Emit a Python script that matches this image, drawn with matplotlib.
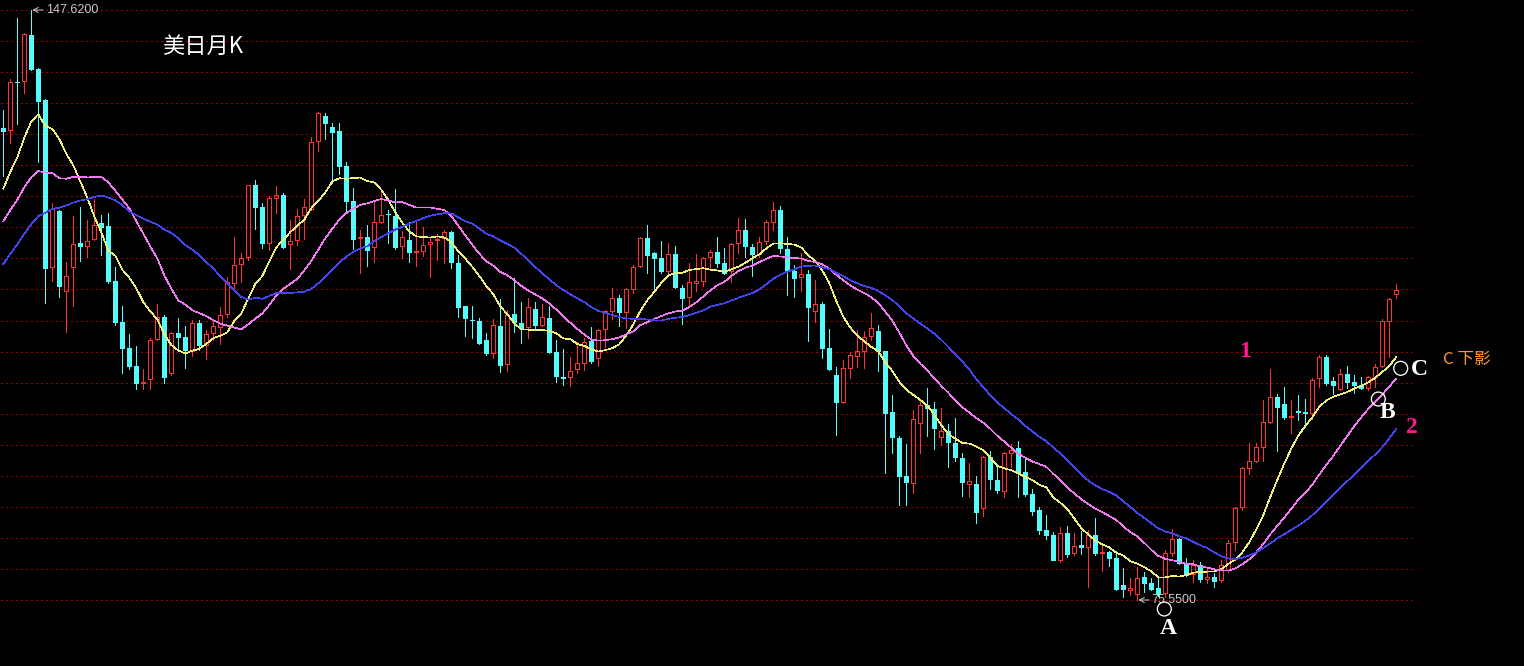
import numpy as np
import pandas as pd
import matplotlib
matplotlib.use("Agg")
import matplotlib.pyplot as plt
from matplotlib.patches import Rectangle
from matplotlib.collections import PatchCollection, LineCollection

# ---------------- data: USD/JPY monthly candles, 1998-04 .. 2014-11 ----------------
months = [str(p) for p in pd.period_range("1998-04", "2014-11", freq="M")]

opens = [
    133.21, 132.96, 138.82, 138.95, 144.56, 140.41, 136.60, 116.20, 123.07, 113.30,
    116.20, 119.16, 118.79, 119.65, 121.60, 121.24, 114.50, 109.50, 106.33, 104.13,
    102.06, 102.55, 107.43, 110.12, 103.28, 108.16, 107.67, 105.97, 109.39, 106.70,
    108.16, 108.90, 110.49, 114.27, 116.59, 117.45, 126.24, 123.55, 119.16, 124.65,
    125.02, 119.03, 119.52, 122.58, 123.31, 131.62, 134.67, 133.33, 132.84, 128.56,
    124.29, 119.77, 119.89, 118.67, 121.72, 122.75, 122.45, 118.79, 119.52, 118.06,
    118.18, 119.03, 119.52, 119.77, 120.50, 116.71, 111.46, 109.80, 109.63, 107.31,
    105.72, 109.02, 104.38, 110.49, 109.39, 108.90, 111.10, 109.14, 110.00, 105.84,
    102.79, 102.79, 103.77, 104.50, 107.19, 105.11, 108.65, 110.85, 112.44, 110.73,
    113.54, 116.35, 119.77, 117.93, 117.32, 115.73, 117.81, 113.66, 112.56, 114.27,
    114.51, 117.45, 118.06, 116.71, 115.73, 119.16, 120.75, 118.67, 117.81, 119.40,
    121.72, 123.19, 118.43, 115.73, 115.00, 115.37, 110.85, 111.71, 106.33, 103.03,
    99.74, 103.89, 105.36, 105.97, 107.80, 108.41, 105.97, 98.51, 95.34, 90.70,
    89.84, 97.17, 99.37, 98.88, 95.46, 96.19, 94.73, 92.90, 89.72, 89.72,
    86.79, 93.02, 90.21, 88.86, 93.50, 94.12, 91.18, 88.50, 86.54, 84.10,
    83.49, 80.43, 83.73, 81.29, 82.27, 82.02, 83.49, 81.29, 81.41, 80.68,
    77.38, 76.77, 76.28, 78.36, 77.63, 77.01, 76.41, 81.29, 82.98, 80.07,
    78.73, 79.83, 78.12, 78.36, 77.99, 79.21, 82.63, 86.91, 91.67, 92.53,
    94.24, 97.29, 100.35, 99.49, 97.90, 98.63, 98.51, 98.39, 102.67, 105.23,
    102.30, 101.32, 103.16, 102.18, 101.81, 101.45, 102.79, 104.13, 109.63, 112.93,
]
highs = [
    135.40, 139.19, 146.64, 144.81, 147.62, 140.53, 136.70, 124.00, 123.20, 116.84,
    122.45, 123.55, 121.97, 124.53, 122.58, 122.82, 116.23, 111.46, 108.04, 106.58,
    103.77, 107.55, 111.70, 110.36, 108.28, 110.00, 109.02, 109.75, 109.75, 108.53,
    109.63, 111.34, 115.00, 119.89, 117.93, 126.30, 126.85, 124.04, 124.90, 126.12,
    125.26, 121.97, 123.31, 124.53, 132.11, 135.16, 135.04, 133.82, 133.82, 129.05,
    125.88, 120.75, 121.36, 124.17, 125.51, 123.19, 125.75, 120.62, 121.72, 121.72,
    121.11, 119.77, 120.26, 120.75, 120.62, 117.69, 111.46, 111.46, 110.00, 108.16,
    109.87, 112.32, 110.97, 114.88, 111.95, 112.44, 111.95, 111.70, 111.46, 107.31,
    106.21, 105.23, 107.06, 107.55, 108.90, 108.65, 110.97, 113.66, 112.81, 113.66,
    116.47, 119.89, 121.36, 118.06, 119.40, 119.16, 118.79, 114.03, 116.71, 117.81,
    117.45, 118.30, 119.89, 118.55, 119.16, 122.21, 122.09, 119.03, 119.89, 121.97,
    124.17, 123.68, 119.89, 116.47, 117.93, 115.86, 114.64, 111.95, 108.65, 104.01,
    104.87, 105.84, 108.53, 108.41, 110.61, 109.14, 106.00, 100.59, 95.58, 94.60,
    98.76, 99.98, 101.45, 99.74, 99.00, 97.05, 97.78, 93.50, 92.29, 90.70,
    93.10, 93.75, 92.16, 93.63, 94.60, 94.97, 92.90, 89.11, 86.91, 85.93,
    83.86, 84.47, 84.59, 83.73, 83.98, 84.10, 85.57, 82.15, 81.53, 81.53,
    79.46, 78.24, 79.58, 78.97, 78.24, 78.36, 81.66, 84.24, 83.12, 80.68,
    80.43, 80.19, 79.58, 78.85, 80.43, 82.88, 86.85, 91.80, 94.73, 94.73,
    99.98, 103.77, 100.71, 101.57, 99.98, 100.59, 100.10, 102.67, 105.48, 105.48,
    102.79, 103.77, 104.13, 103.03, 102.79, 102.91, 104.38, 109.87, 112.44, 114.15,
]
lows = [
    127.34, 131.37, 133.70, 137.48, 140.30, 129.05, 111.83, 114.50, 112.56, 108.28,
    111.46, 116.96, 117.45, 119.50, 117.70, 114.27, 109.14, 103.28, 103.77, 101.32,
    101.32, 101.32, 107.31, 102.06, 103.03, 106.09, 103.89, 105.36, 106.09, 104.99,
    107.31, 106.82, 110.12, 113.66, 114.39, 117.08, 120.87, 118.55, 118.30, 122.82,
    118.55, 115.98, 118.91, 119.65, 123.20, 130.40, 131.86, 126.49, 127.59, 122.82,
    118.43, 115.49, 116.35, 116.84, 121.60, 119.16, 118.43, 117.32, 116.84, 116.35,
    117.57, 115.00, 117.08, 116.71, 116.10, 110.12, 107.80, 107.55, 106.82, 105.48,
    105.11, 103.40, 103.52, 108.28, 106.94, 107.55, 108.65, 109.02, 105.72, 102.18,
    101.81, 101.69, 103.28, 103.64, 104.50, 104.13, 106.45, 109.87, 109.02, 108.77,
    113.05, 116.23, 115.49, 113.42, 115.49, 115.49, 113.70, 109.26, 111.34, 113.30,
    113.90, 115.86, 116.23, 115.40, 114.39, 117.93, 117.45, 115.13, 117.45, 119.03,
    120.75, 117.93, 112.81, 112.56, 113.30, 107.19, 109.51, 105.11, 103.64, 95.71,
    99.61, 102.67, 104.01, 103.89, 107.31, 103.52, 91.06, 93.50, 87.15, 87.15,
    88.62, 93.50, 95.58, 93.99, 94.48, 91.80, 92.53, 88.25, 88.13, 84.96,
    85.81, 89.11, 88.62, 88.13, 91.80, 88.13, 88.25, 85.93, 83.61, 83.00,
    80.40, 80.19, 80.80, 81.05, 81.17, 77.14, 81.05, 79.15, 79.70, 76.77,
    75.92, 76.16, 75.55, 76.53, 76.77, 76.04, 75.92, 80.92, 80.00, 78.48,
    77.75, 77.75, 77.63, 77.14, 77.75, 78.97, 81.66, 86.54, 90.94, 92.41,
    92.53, 97.17, 93.75, 97.66, 95.95, 97.54, 96.68, 97.66, 101.57, 101.81,
    100.71, 101.20, 101.45, 100.83, 101.32, 101.20, 101.57, 104.01, 105.23, 112.44,
]
closes = [
    132.84, 138.82, 138.80, 144.69, 140.41, 136.50, 116.10, 123.30, 113.90, 115.10,
    119.00, 118.79, 119.40, 121.36, 121.10, 114.50, 109.51, 106.33, 104.13, 102.06,
    102.18, 107.31, 110.12, 102.79, 108.16, 107.67, 106.09, 109.39, 106.70, 108.04,
    109.02, 110.36, 114.39, 116.47, 117.32, 126.24, 123.55, 119.16, 124.65, 125.02,
    118.67, 119.40, 122.45, 123.55, 131.49, 135.04, 133.82, 132.72, 128.56, 124.29,
    119.65, 119.89, 118.30, 121.72, 122.58, 122.68, 118.67, 119.89, 118.06, 118.18,
    118.91, 119.28, 119.65, 120.50, 116.84, 111.34, 110.00, 109.70, 106.94, 105.72,
    109.14, 104.25, 110.36, 109.51, 108.77, 111.34, 109.14, 110.12, 105.84, 102.91,
    102.67, 103.52, 104.50, 107.06, 104.74, 108.53, 110.85, 112.44, 110.73, 113.54,
    116.23, 119.77, 117.69, 117.32, 115.73, 117.81, 113.78, 112.44, 114.39, 114.51,
    117.32, 118.06, 116.71, 115.49, 119.03, 120.75, 118.79, 117.81, 119.28, 121.72,
    123.19, 118.55, 115.73, 114.88, 115.37, 111.34, 111.71, 106.33, 103.77, 99.74,
    103.89, 105.48, 105.97, 107.67, 108.77, 105.97, 98.39, 95.46, 90.70, 89.96,
    97.66, 99.37, 99.00, 96.56, 96.19, 94.85, 93.02, 89.96, 90.09, 86.30,
    93.02, 90.33, 88.99, 93.50, 93.87, 91.18, 88.50, 86.42, 84.10, 83.49,
    80.43, 83.73, 81.17, 82.15, 82.02, 83.49, 81.29, 81.41, 80.68, 76.89,
    76.89, 77.01, 78.24, 77.63, 76.89, 76.28, 81.29, 82.98, 80.07, 78.60,
    79.83, 78.12, 78.36, 77.87, 79.83, 82.52, 86.79, 91.67, 92.53, 94.24,
    97.29, 100.35, 99.12, 97.90, 98.03, 98.51, 98.39, 102.42, 105.23, 102.06,
    101.81, 103.16, 102.18, 101.81, 101.45, 102.79, 104.01, 109.63, 112.32, 113.42,
]
# closes of the months before the first visible candle (1995-11 .. 1998-03), used to seed the MAs
warmup_close = [
    101.9, 103.4, 107.0, 104.8, 106.4, 104.7, 108.5, 109.7, 106.9, 108.2,
    111.5, 114.0, 113.8, 115.9, 121.2, 120.2, 124.1, 126.9, 116.3, 114.6,
    118.3, 121.0, 120.8, 120.5, 127.6, 130.5, 127.0, 126.1, 133.3,
]
ma_periods = [10, 20, 30]
title_text = "美日月K"

# ---------------- styles ----------------
BG = "black"
UP = "#ff3232"
DOWN = "#54fcfc"
GRID = "#990000"
MA_COLORS = ["#f0f078", "#f078f0", "#4444f0"]
PINK = "#ff1a8c"
ORANGE = "#ff9933"
LABEL = "#c8c8c8"
PX = 0.72  # one pixel in points

W, H = 1524, 666
fig = plt.figure(figsize=(W / 100, H / 100), dpi=100, facecolor=BG)
ax = fig.add_axes([0, 0, 1, 1])
ax.set_facecolor(BG)
ax.set_axis_off()

step = 7.0
x0 = 3.3
ax.set_xlim(-x0 / step, (W - x0) / step)
top = max(highs)
bot = min(lows)
ppx = (top - bot) / 590.0
ax.set_ylim(bot - (H - 600) * ppx, top + 10 * ppx)

# horizontal dotted grid (19 equal divisions between extreme high and low)
grid_y = bot + np.arange(20) * (top - bot) / 19
ax.hlines(grid_y, -0.3, 201.8, colors=GRID, linestyles=(0, (2, 3)), lw=PX, antialiased=False, zorder=1)

o = np.array(opens); h = np.array(highs); l = np.array(lows); c = np.array(closes)
n = len(c)
x = np.arange(n)
up = c >= o
bw = 0.58

up_rects, dn_rects, wick_up, wick_dn = [], [], [], []
for i in range(n):
    lo_b, hi_b = min(o[i], c[i]), max(o[i], c[i])
    r = Rectangle((x[i] - bw / 2, lo_b), bw, max(hi_b - lo_b, 1e-6))
    if up[i]:
        up_rects.append(r)
        wick_up.append([(x[i], hi_b), (x[i], h[i])])
        wick_up.append([(x[i], l[i]), (x[i], lo_b)])
    else:
        dn_rects.append(r)
        wick_dn.append([(x[i], l[i]), (x[i], h[i])])

ax.add_collection(LineCollection(wick_dn, colors=DOWN, linewidths=PX, antialiased=False, zorder=2))
ax.add_collection(PatchCollection(dn_rects, facecolor=DOWN, edgecolor=DOWN, linewidths=PX, antialiased=False, zorder=3))
ax.add_collection(LineCollection(wick_up, colors=UP, linewidths=PX, antialiased=False, zorder=2))
ax.add_collection(PatchCollection(up_rects, facecolor="none", edgecolor=UP, linewidths=PX, antialiased=False, zorder=3))

# moving averages
full = pd.Series(np.concatenate([warmup_close, closes]))
for p, col in zip(ma_periods, MA_COLORS):
    ma = full.rolling(p, min_periods=1).mean().values[len(warmup_close):]
    ax.plot(x, ma, color=col, lw=0.45, antialiased=False, zorder=4)

# extreme labels
i_hi = int(np.argmax(h))
i_lo = int(np.argmin(l))
arrow = dict(arrowstyle="->,head_length=0.35,head_width=0.18", color=LABEL, lw=PX, shrinkA=0, shrinkB=0)
ax.annotate("", xy=(i_hi + 0.15, top), xytext=(i_hi + 1.7, top), arrowprops=arrow, zorder=5)
ax.text(i_hi + 2.05, top, f"{top:.4f}", color=LABEL, fontsize=9, family="Liberation Sans", va="center", ha="left", zorder=5)
ax.annotate("", xy=(i_lo + 0.15, bot), xytext=(i_lo + 1.7, bot), arrowprops=arrow, zorder=5)
ax.text(i_lo + 1.95, bot, f"{bot:.4f}", color=LABEL, fontsize=9, family="Liberation Sans", va="center", ha="left", zorder=5)

cjk = ["Noto Sans CJK SC", "DejaVu Sans"]
ax.text(22.7, 143.2, title_text, color="white", fontsize=16, family=cjk, va="center", ha="left", zorder=6)

# circles A, B, C
ax.scatter([165.86, 196.43, 199.63], [74.45, 100.10, 103.85], s=100, facecolors="none",
           edgecolors="white", linewidths=PX * 1.3, zorder=6)
serif = "Liberation Serif"
for tx, ty, s, col in [(166.4, 72.1, "A", "white"), (197.8, 98.4, "B", "white"),
                       (202.3, 103.7, "C", "white"), (177.4, 105.9, "1", PINK),
                       (201.2, 96.6, "2", PINK)]:
    ax.text(tx, ty, s, color=col, fontsize=17, family=serif, weight="bold",
            va="center", ha="center", zorder=6)
ax.text(205.67, 104.93, "C 下影", color=ORANGE, fontsize=12, family=cjk, va="center", ha="left", zorder=6)

fig.savefig("out.png", dpi=100, facecolor=BG)
